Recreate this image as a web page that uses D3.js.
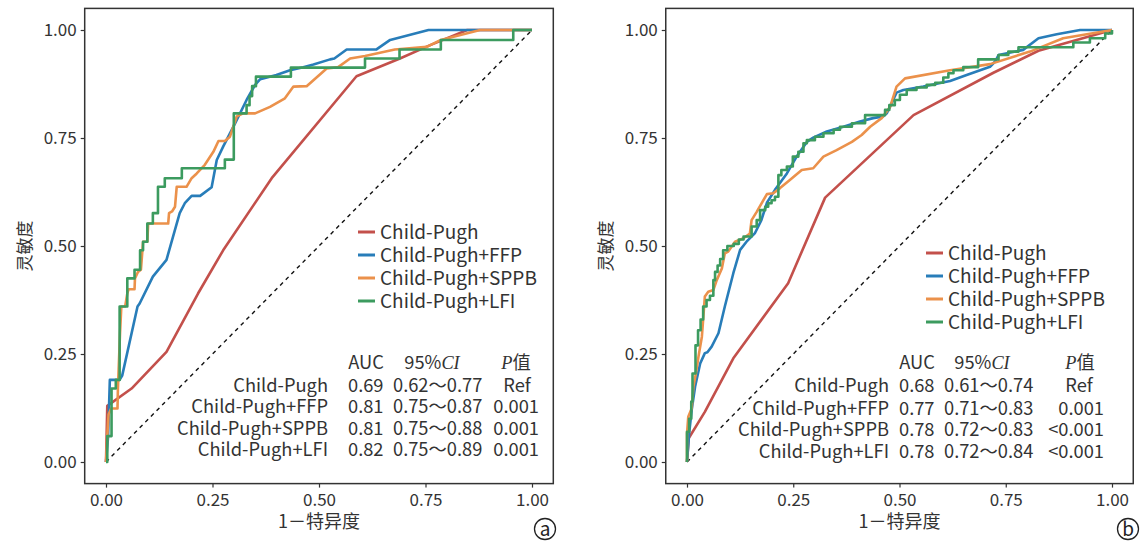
<!DOCTYPE html>
<html>
<head>
<meta charset="utf-8">
<title>ROC</title>
<script src="https://cdn.jsdelivr.net/npm/d3@7/dist/d3.min.js"></script>
<style>
  body { margin: 0; background: #fff; }
  svg text { font-family: "Noto Sans CJK SC", "Noto Sans", sans-serif; fill: #333; }
  .tick text { font-size: 17px; }
  .tick line { stroke: #333; stroke-width: 1.2; }
  .frame { fill: none; stroke: #333; stroke-width: 1.5; }
  .roc { fill: none; stroke-width: 2.6; stroke-linejoin: round; }
  .diag { stroke: #111; stroke-width: 1.4; stroke-dasharray: 4 4; }
  .tbl { font-size: 18.3px; }
</style>
</head>
<body>
<div id="chart"></div>
<script>
// ---- data ----
const xTicks = [0, 0.25, 0.5, 0.75, 1];
const yTicks = [0, 0.25, 0.5, 0.75, 1];
const seriesNames = ['Child-Pugh', 'Child-Pugh+FFP', 'Child-Pugh+SPPB', 'Child-Pugh+LFI'];
const seriesColors = ['#c3504b', '#287db9', '#eb914b', '#3c9b5f'];

// panel a  [1-specificity, sensitivity]
const aChildPugh = [[0,0],[0.003,0.13],[0.06,0.17],[0.142,0.255],[0.216,0.39],[0.275,0.49],[0.389,0.657],
  [0.588,0.893],[0.69,0.934],[0.761,0.965],[0.848,1],[1,1]];
const aFFP = [[0,0],[0.005,0.06],[0.009,0.19],[0.032,0.19],[0.038,0.2],[0.074,0.36],[0.079,0.367],[0.11,0.429],
  [0.142,0.468],[0.173,0.576],[0.185,0.599],[0.201,0.616],[0.221,0.616],[0.248,0.636],[0.26,0.699],[0.275,0.73],
  [0.303,0.784],[0.33,0.838],[0.35,0.873],[0.362,0.886],[0.4,0.896],[0.432,0.907],[0.463,0.914],[0.487,0.92],
  [0.526,0.932],[0.536,0.934],[0.565,0.955],[0.635,0.955],[0.667,0.977],[0.757,1],[1,1]];
const aSPPB = [[0,0],[0.003,0.06],[0.006,0.11],[0.012,0.124],[0.027,0.124],[0.028,0.17],[0.033,0.3],[0.036,0.36],
  [0.045,0.36],[0.05,0.39],[0.053,0.4],[0.067,0.4],[0.068,0.425],[0.075,0.44],[0.082,0.445],[0.087,0.51],
  [0.097,0.51],[0.099,0.552],[0.146,0.552],[0.148,0.576],[0.155,0.58],[0.162,0.591],[0.166,0.637],[0.189,0.637],
  [0.201,0.657],[0.213,0.668],[0.232,0.688],[0.252,0.718],[0.264,0.743],[0.279,0.743],[0.291,0.753],[0.307,0.8],
  [0.322,0.807],[0.35,0.807],[0.385,0.822],[0.42,0.842],[0.44,0.869],[0.471,0.87],[0.518,0.911],[0.545,0.914],
  [0.573,0.934],[0.608,0.94],[0.678,0.955],[0.753,0.961],[0.786,0.977],[0.878,1],[1,1]];
// LFI curves are stepwise: each point is the top of a vertical rise
const aLFI = [[0,0],[0.003,0.06],[0.013,0.17],[0.023,0.19],[0.032,0.36],[0.05,0.425],[0.067,0.445],[0.08,0.49],
  [0.087,0.51],[0.097,0.552],[0.11,0.576],[0.122,0.637],[0.138,0.657],[0.178,0.68],[0.279,0.7],[0.3,0.807],
  [0.33,0.826],[0.337,0.847],[0.343,0.87],[0.352,0.892],[0.434,0.913],[0.608,0.934],[0.689,0.955],[0.786,0.977],
  [0.956,1],[1,1]];

// panel b
const bChildPugh = [[0,0],[0.004,0.055],[0.042,0.116],[0.109,0.24],[0.238,0.414],[0.325,0.612],[0.533,0.803],
  [0.721,0.901],[0.827,0.952],[1,1]];
const bFFP = [[0,0],[0.005,0.066],[0.011,0.12],[0.019,0.174],[0.031,0.228],[0.042,0.252],[0.048,0.254],
  [0.058,0.267],[0.074,0.298],[0.089,0.36],[0.109,0.437],[0.125,0.491],[0.14,0.51],[0.16,0.53],[0.175,0.56],
  [0.188,0.6],[0.207,0.63],[0.235,0.668],[0.258,0.707],[0.282,0.741],[0.297,0.751],[0.329,0.765],[0.368,0.776],
  [0.407,0.788],[0.438,0.796],[0.462,0.8],[0.47,0.807],[0.485,0.838],[0.493,0.855],[0.509,0.861],[0.556,0.869],
  [0.619,0.882],[0.658,0.896],[0.713,0.915],[0.725,0.927],[0.733,0.942],[0.791,0.954],[0.827,0.981],[0.87,0.99],
  [0.925,1],[1,1]];
const bSPPB = [[0,0],[0,0.066],[0.003,0.105],[0.011,0.124],[0.015,0.174],[0.021,0.205],[0.027,0.244],[0.035,0.29],
  [0.042,0.383],[0.05,0.394],[0.062,0.398],[0.07,0.421],[0.082,0.448],[0.089,0.483],[0.097,0.487],[0.113,0.51],
  [0.133,0.518],[0.148,0.529],[0.152,0.56],[0.164,0.579],[0.188,0.62],[0.203,0.622],[0.219,0.634],[0.242,0.653],
  [0.27,0.676],[0.297,0.68],[0.321,0.707],[0.352,0.722],[0.388,0.741],[0.411,0.757],[0.431,0.776],[0.458,0.796],
  [0.478,0.822],[0.493,0.869],[0.513,0.888],[0.619,0.907],[0.713,0.921],[0.807,0.95],[0.885,0.981],[1,1]];
const bLFI = [[0,0],[0,0.07],[0.005,0.1],[0.01,0.14],[0.013,0.205],[0.02,0.27],[0.026,0.305],[0.032,0.33],
  [0.038,0.36],[0.046,0.375],[0.054,0.385],[0.062,0.421],[0.066,0.44],[0.072,0.455],[0.078,0.47],[0.085,0.49],
  [0.095,0.5],[0.11,0.505],[0.122,0.515],[0.133,0.522],[0.152,0.545],[0.164,0.56],[0.172,0.583],[0.184,0.591],
  [0.191,0.599],[0.199,0.606],[0.207,0.614],[0.215,0.664],[0.222,0.676],[0.235,0.684],[0.249,0.707],[0.262,0.718],
  [0.274,0.738],[0.282,0.745],[0.301,0.753],[0.321,0.761],[0.345,0.769],[0.36,0.776],[0.388,0.784],[0.419,0.803],
  [0.466,0.815],[0.476,0.826],[0.489,0.838],[0.501,0.85],[0.517,0.861],[0.54,0.867],[0.564,0.873],[0.584,0.878],
  [0.603,0.89],[0.615,0.9],[0.627,0.907],[0.65,0.914],[0.685,0.932],[0.733,0.942],[0.756,0.95],[0.78,0.96],
  [0.909,0.971],[0.948,0.981],[0.984,0.992],[1,1]];

// tables
const aAUC = ['0.69', '0.81', '0.81', '0.82'];
const aCI = ['0.62～0.77', '0.75～0.87', '0.75～0.88', '0.75～0.89'];
const aP = ['Ref', '0.001', '0.001', '0.001'];
const bAUC = ['0.68', '0.77', '0.78', '0.78'];
const bCI = ['0.61～0.74', '0.71～0.83', '0.72～0.83', '0.72～0.84'];
const bP = ['Ref', '0.001', '<0.001', '<0.001'];

// ---- drawing ----
const W = 1140, H = 542;
const svg = d3.select('#chart').append('svg').attr('width', W).attr('height', H);

const yScale = d3.scaleLinear().domain([0, 1]).range([462, 30]);

function drawPanel(p) {
  const x = d3.scaleLinear().domain([0, 1]).range(p.xRange);
  const y = yScale;
  const g = svg.append('g');

  const x0 = x(-0.05), x1 = x(1.05), yTop = y(1.05), yBot = y(-0.05);

  // diagonal
  g.append('line').attr('class', 'diag')
    .attr('x1', x(0)).attr('y1', y(0)).attr('x2', x(1)).attr('y2', y(1));

  const line = d3.line().x(d => x(d[0])).y(d => y(d[1]));
  const stepLine = d3.line().x(d => x(d[0])).y(d => y(d[1])).curve(d3.curveStepAfter);

  p.series.forEach((s, i) => {
    g.append('path').attr('class', 'roc')
      .attr('d', i === 3 ? stepLine(s) : line(s))
      .style('stroke', seriesColors[i]);
  });

  // frame
  g.append('rect').attr('class', 'frame')
    .attr('x', x0).attr('y', yTop).attr('width', x1 - x0).attr('height', yBot - yTop);

  // axes
  const xa = g.append('g').attr('transform', `translate(0,${yBot})`)
    .call(d3.axisBottom(x).tickValues(xTicks).tickFormat(d3.format('.2f')).tickSize(4).tickPadding(6));
  xa.select('.domain').remove();
  const ya = g.append('g').attr('transform', `translate(${x0},0)`)
    .call(d3.axisLeft(y).tickValues(yTicks).tickFormat(d3.format('.2f')).tickSize(4).tickPadding(4));
  ya.select('.domain').remove();

  // axis titles
  g.append('text').attr('x', x(0.5)).attr('y', 528)
    .attr('text-anchor', 'middle').style('font-size', '18px').text('1－特异度');
  g.append('text').attr('transform', `translate(${x0 - 60},${y(0.5)}) rotate(-90)`)
    .attr('text-anchor', 'middle').attr('dy', '0.35em').style('font-size', '17px').text('灵敏度');

  // legend
  seriesNames.forEach((name, i) => {
    const ly = p.legendY + i * 23;
    g.append('line').attr('x1', p.legendX).attr('x2', p.legendX + 17).attr('y1', ly).attr('y2', ly)
      .style('stroke', seriesColors[i]).style('stroke-width', 3);
    g.append('text').attr('x', p.legendX + 22).attr('y', ly).attr('dy', '0.35em')
      .style('font-size', '19px').text(name);
  });

  // table
  const t = p.table;
  const hdrY = 363;
  g.append('text').attr('class', 'tbl').attr('x', t.aucHdrX).attr('y', hdrY).attr('dy', '0.35em')
    .attr('text-anchor', 'middle').text('AUC');
  const ci = g.append('text').attr('class', 'tbl').attr('x', t.ciHdrX).attr('y', hdrY).attr('dy', '0.35em')
    .attr('text-anchor', 'middle');
  ci.append('tspan').text('95%');
  ci.append('tspan').style('font-family', '"Liberation Serif", serif').style('font-style', 'italic').text('CI');
  const ph = g.append('text').attr('class', 'tbl').attr('x', t.pHdrX).attr('y', hdrY).attr('dy', '0.35em')
    .attr('text-anchor', 'middle');
  ph.append('tspan').style('font-family', '"Liberation Serif", serif').style('font-style', 'italic').text('P');
  ph.append('tspan').text('值');

  seriesNames.forEach((name, i) => {
    const ry = t.rowY[i];
    g.append('text').attr('class', 'tbl').attr('x', t.labelX).attr('y', ry).attr('dy', '0.35em')
      .attr('text-anchor', 'end').text(name);
    g.append('text').attr('class', 'tbl').attr('x', t.aucX).attr('y', ry).attr('dy', '0.35em')
      .attr('text-anchor', 'start').text(p.auc[i]);
    g.append('text').attr('class', 'tbl').attr('x', t.ciX).attr('y', ry).attr('dy', '0.35em')
      .attr('text-anchor', 'start').text(p.ci[i]);
    const isRef = p.pv[i] === 'Ref';
    g.append('text').attr('class', 'tbl').attr('x', isRef ? t.refX : t.pRightX).attr('y', ry).attr('dy', '0.35em')
      .attr('text-anchor', isRef ? 'middle' : 'end').text(p.pv[i]);
  });

  // panel mark
  g.append('circle').attr('cx', p.markX).attr('cy', 529).attr('r', 10.5)
    .style('fill', 'none').style('stroke', '#222').style('stroke-width', 1.3);
  g.append('text').attr('x', p.markX).attr('y', 529).attr('dy', '0.35em')
    .attr('text-anchor', 'middle').style('font-size', '19px').style('fill', '#222').text(p.mark);
}

drawPanel({
  xRange: [106, 532],
  series: [aChildPugh, aFFP, aSPPB, aLFI],
  auc: aAUC, ci: aCI, pv: aP,
  legendX: 358, legendY: 232,
  table: { labelX: 328, aucX: 348, aucHdrX: 366, ciX: 393, ciHdrX: 432, pHdrX: 516, refX: 517, pRightX: 539,
           rowY: [386, 407, 429, 450] },
  markX: 545, mark: 'a'
});

drawPanel({
  xRange: [687, 1112],
  series: [bChildPugh, bFFP, bSPPB, bLFI],
  auc: bAUC, ci: bCI, pv: bP,
  legendX: 926, legendY: 253,
  table: { labelX: 889, aucX: 899, aucHdrX: 917, ciX: 944, ciHdrX: 982, pHdrX: 1080, refX: 1079, pRightX: 1104,
           rowY: [386, 409, 430, 452] },
  markX: 1128, mark: 'b'
});
</script>
</body>
</html>
